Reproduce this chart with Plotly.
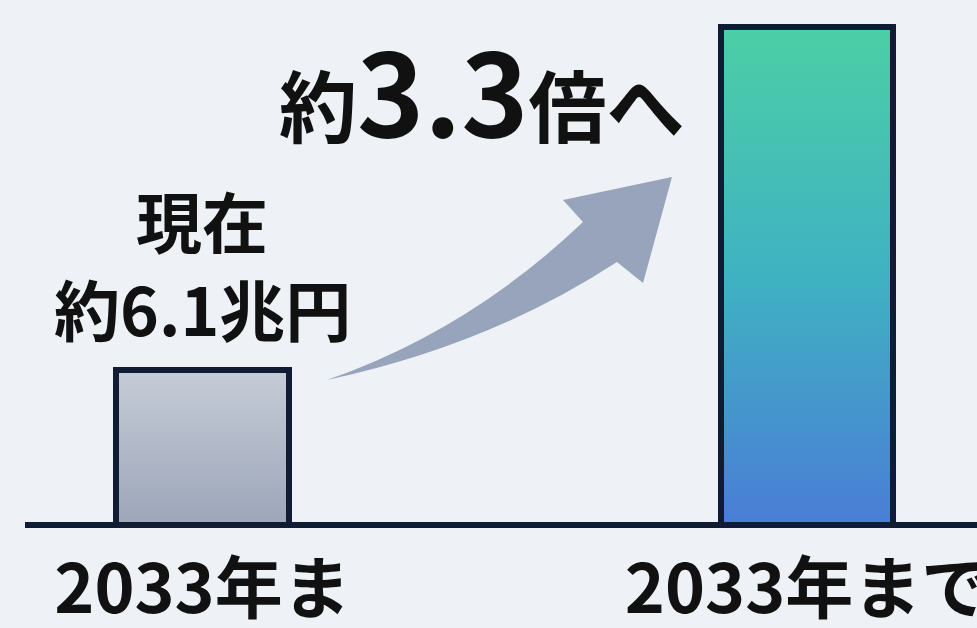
import plotly.graph_objects as go

# ---- data ----
categories = ["2033年ま", "2033年まで"]
values = [6.1, 19.6]          # 兆円
value_label_lines = ["現在", "約6.1兆円"]
ratio_label_parts = ["約", "3.3", "倍へ"]

# ---- style ----
FONT = "Noto Sans CJK JP"
NAVY = "#0f1c33"
BG = "#eef2f6"
grad_left = [[0, "#9ca6b9"], [1, "#c6ccd7"]]
grad_right = [[0, "#4a7dd6"], [0.5, "#3fb2c2"], [1, "#4ccfa5"]]
bar_w = 0.286
xs = list(range(len(categories)))

fig = go.Figure()

# gradient fills of the bars (drawn beneath the outlined bars)
for i, (v, cs) in enumerate(zip(values, [grad_left, grad_right])):
    fig.add_trace(go.Scatter(
        x=[i - bar_w / 2, i - bar_w / 2, i + bar_w / 2, i + bar_w / 2, i - bar_w / 2],
        y=[0, v, v, 0, 0],
        mode="lines", fill="toself", line=dict(width=0),
        fillgradient=dict(type="vertical", colorscale=cs, start=0, stop=v),
        hoverinfo="skip", showlegend=False, xaxis="x", yaxis="y"))

# the bars themselves (outline) on an overlaid axis so they render above
fig.add_trace(go.Bar(
    x=xs, y=values, width=bar_w,
    marker=dict(color="rgba(0,0,0,0)", line=dict(color=NAVY, width=6)),
    showlegend=False, xaxis="x", yaxis="y2"))

yr = [-0.2, 20.66]

# arrow (decoration) in pixel-ish paper coords
L, T, W, H = 25, 0, 952, 530
def P(px, py):
    return f"{(px - L) / W:.4f},{(T + H - py) / H:.4f}"

arrow_path = (
    f"M {P(327, 380)} Q {P(470, 330)} {P(583, 222)} "
    f"L {P(563, 200)} L {P(672, 177)} L {P(643, 283)} L {P(617, 262)} "
    f"Q {P(490, 345)} {P(327, 380)} Z"
)
fig.add_shape(type="path", path=arrow_path, xref="paper", yref="paper",
              fillcolor="#98a4bb", line=dict(width=0), layer="above")

# baseline
fig.add_shape(type="line", xref="paper", yref="y", x0=0, x1=1, y0=0, y1=0,
              line=dict(color=NAVY, width=6), layer="above")

# value label over first bar (two lines)
for txt, shift in zip(value_label_lines, [151, 63]):
    fig.add_annotation(x=0, y=values[0], xref="x", yref="y", text=txt,
                       showarrow=False, yanchor="middle", yshift=shift,
                       font=dict(family=FONT, size=66, color="#111111", weight="bold"))

# ratio label
ratio_text = (f"<span style='font-size:78px'>{ratio_label_parts[0]}</span>"
              f"<span style='font-size:114px'>{ratio_label_parts[1]}</span>"
              f"<span style='font-size:78px'>{ratio_label_parts[2]}</span>")
fig.add_annotation(x=(482 - L) / W, y=(H - 88) / H, xref="paper", yref="paper",
                   text=ratio_text, showarrow=False, xanchor="center", yanchor="middle",
                   font=dict(family=FONT, size=78, color="#111111", weight="bold"))

fig.update_layout(
    width=977, height=628,
    margin=dict(l=L, r=0, t=T, b=628 - H),
    paper_bgcolor=BG, plot_bgcolor=BG,
    bargap=0,
    xaxis=dict(range=[-0.2936, 1.2812], tickvals=xs, ticktext=categories,
               showgrid=False, zeroline=False, showline=False, ticks="",
               tickfont=dict(family=FONT, size=68, color="#111111", weight="bold"),
               ticklabeloverflow="allow", ticklabelstandoff=14,
               automargin=False, fixedrange=True),
    yaxis=dict(range=yr, visible=False, showgrid=False, zeroline=False, fixedrange=True),
    yaxis2=dict(range=yr, overlaying="y", visible=False, showgrid=False,
                zeroline=False, fixedrange=True),
    showlegend=False,
)

fig.write_html("out.html")
